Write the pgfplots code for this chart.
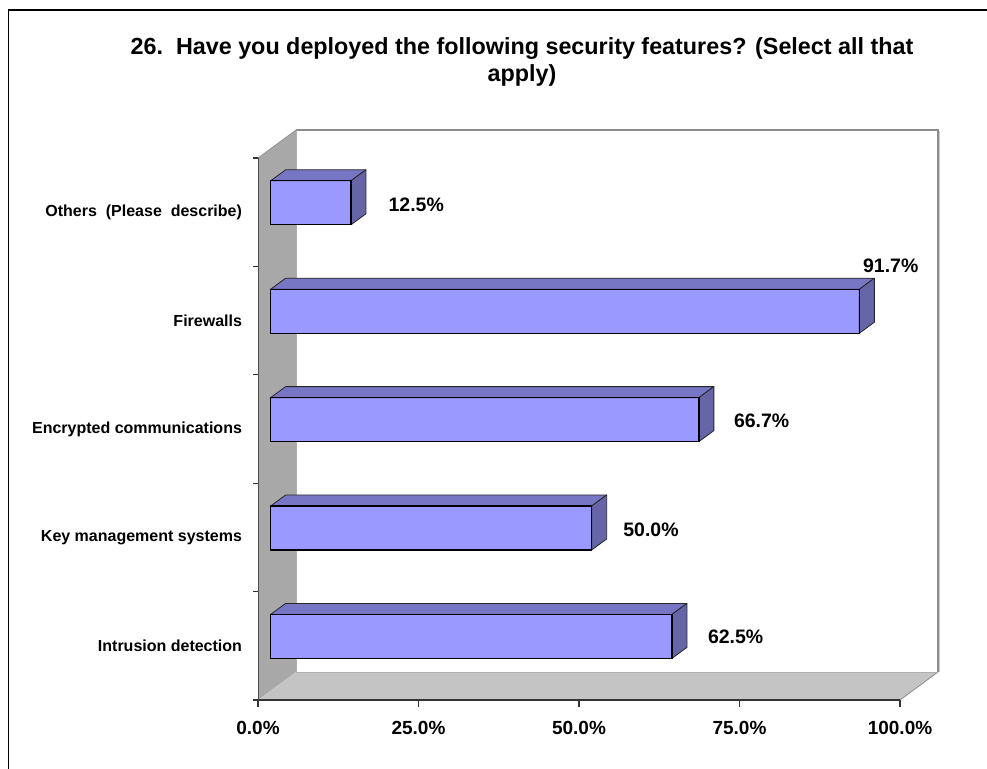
\documentclass[border=0pt]{standalone}
\usepackage{pgfplots}
\usepackage{pgfplotstable}
\pgfplotsset{compat=1.18}
\usepackage{fontspec}
\setmainfont{Liberation Sans}
\definecolor{barfront}{HTML}{9999FF}
\definecolor{bartop}{HTML}{7676C4}
\definecolor{barside}{HTML}{6565A8}
\definecolor{wallc}{HTML}{A8A8A8}
\definecolor{floorc}{HTML}{C4C4C4}
\definecolor{backline}{HTML}{8C8C8C}

\pgfplotstableread{
cat value lx ly
0 62.5 47.8 -0.3
1 50.0 44.5 -1.05
2 66.7 47.1 -1.05
3 91.7 23.5 34.2
4 12.5 49.0 -1.8
}\datatable

\begin{document}
\begin{tikzpicture}
\useasboundingbox (0pt,0pt) rectangle (740.25pt,576pt);
% outer frame (partly cropped in the reference)
\draw[black, line width=1pt] (6.4pt,-2pt) -- (6.4pt,568.5pt) -- (745pt,568.5pt);
% title
\node[align=center, font=\fontsize{17.5}{20.25}\selectfont\bfseries] at (391.5pt,529.5pt)
  {26.\ \ Have you deployed the following security features? (Select all that\\apply)};
\begin{axis}[
  at={(193.5pt,51pt)}, anchor=south west,
  scale only axis, width=481.5pt, height=406.5pt,
  xmin=0, xmax=100, ymin=-0.5, ymax=4.5,
  clip=false, axis on top,
  axis x line*=bottom, axis y line*=left,
  axis line style={-},
  x axis line style={line width=1.5pt, black!80},
  y axis line style={line width=0.6pt, black!70},
  tick align=outside,
  major tick length=5.25pt,
  xtick={0,25,50,75,100},
  xtick style={line width=0.9pt, black!80},
  xticklabel={\pgfmathprintnumber[fixed,fixed zerofill,precision=1]{\tick}\%},
  xticklabel style={font=\fontsize{14.25}{16}\selectfont\bfseries, yshift=-7pt},
  /pgf/number format/assume math mode=true,
  ytick={0,1,2,3,4},
  ytick style={draw=none},
  yticklabels={Intrusion detection, Key management systems, Encrypted communications, Firewalls, Others\ \ (Please\ \ describe)},
  yticklabel style={font=\fontsize{12}{14}\selectfont\bfseries, xshift=-3.25pt},
]
% side wall
\fill[wallc] (axis cs:0,-0.5) -- (axis cs:0,4.5) -- ([shift={(28.5pt,21pt)}]axis cs:0,4.5) -- ([shift={(28.5pt,21pt)}]axis cs:0,-0.5) -- cycle;
% floor
\fill[floorc] (axis cs:0,-0.5) -- (axis cs:100,-0.5) -- ([shift={(28.5pt,21pt)}]axis cs:100,-0.5) -- ([shift={(28.5pt,21pt)}]axis cs:0,-0.5) -- cycle;
% back wall edges
\draw[backline, line width=1pt] ([shift={(28.5pt,21pt)}]axis cs:0,4.5) -- ([shift={(28.5pt,21pt)}]axis cs:100,4.5) -- ([shift={(28.5pt,21pt)}]axis cs:100,-0.5);
\draw[black!20, line width=1pt] ([shift={(29.5pt,20pt)}]axis cs:100,4.5) -- ([shift={(29.5pt,21pt)}]axis cs:100,-0.5);
\draw[backline, line width=0.6pt] (axis cs:100,-0.5) -- ([shift={(28.5pt,21pt)}]axis cs:100,-0.5);
\draw[backline!70, line width=0.5pt] ([shift={(28.5pt,21pt)}]axis cs:0,-0.5) -- ([shift={(28.5pt,21pt)}]axis cs:100,-0.5);
\draw[backline!70, line width=0.5pt] ([shift={(28.5pt,21pt)}]axis cs:0,-0.5) -- ([shift={(28.5pt,21pt)}]axis cs:0,4.5);
\draw[backline, line width=0.5pt] (axis cs:0,4.5) -- ([shift={(28.5pt,21pt)}]axis cs:0,4.5);
% y boundary ticks
\pgfplotsinvokeforeach{-0.5,0.5,1.5,2.5,3.5,4.5}{
  \draw[black!80, line width=0.9pt] (axis cs:0,#1) -- ++(-3.75pt,0pt);
}
% bar front faces
\addplot[xbar, bar width=33pt, fill=barfront, draw=black, line width=1pt,
  xshift=9.5pt, yshift=7.05pt] table[x=value, y=cat] {\datatable};
% bar top and side faces + value labels
\addplot[scatter, only marks, mark=*, mark size=0pt,
  mark options={draw=none, fill=none},
  xshift=9.5pt, yshift=7.05pt,
  visualization depends on={\thisrow{value} \as \bv},
  visualization depends on={\thisrow{lx} \as \lx},
  visualization depends on={\thisrow{ly} \as \ly},
  scatter/@pre marker code/.code={
    \pgfmathsetmacro\L{\bv*4.815}
    \pgfmathsetmacro\Lb{11.25-\L}
    \filldraw[fill=bartop, draw=black!85, line width=0.6pt, line join=round]
      (-\L pt,16.5pt) -- (0pt,16.5pt) -- (11.25pt,24.75pt) -- (\Lb pt,24.75pt) -- cycle;
    \filldraw[fill=barside, draw=black!85, line width=0.6pt, line join=round]
      (0pt,-16.5pt) -- (0pt,16.5pt) -- (11.25pt,24.75pt) -- (11.25pt,-8.25pt) -- cycle;
    \draw[black, line width=1pt] (-\L pt,-16.5pt) rectangle (0pt,16.5pt);
    \node[font=\fontsize{14.6}{16}\selectfont\bfseries] at (\lx pt,\ly pt)
      {\pgfmathprintnumber[fixed,fixed zerofill,precision=1]{\bv}\%};
  },
  scatter/@post marker code/.code={},
] table[x=value, y=cat] {\datatable};
\end{axis}
\end{tikzpicture}
\end{document}
